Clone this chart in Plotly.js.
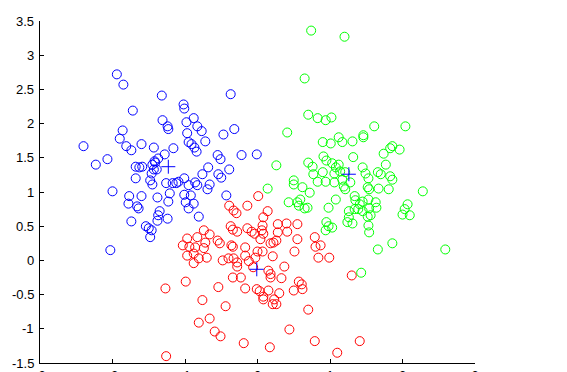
<!DOCTYPE html>
<html>
<head>
<meta charset="utf-8">
<script src="https://cdn.plot.ly/plotly-3.0.1.min.js"></script>
<style>html,body{margin:0;padding:0;background:#fff;}#chart{width:567px;height:372px;}</style>
</head>
<body>
<div id="chart"></div>
<script>
// Cluster 1 (blue)
const blueX = [-1.94,-1.85,-1.32,-0.37,-1.72,-1.02,-1.01,-1.31,-1.24,-1.23,-0.98,-0.88,-0.83,-0.77,-0.97,-0.72,-0.47,-0.32,-0.22,-0.01,
  -1.86,-1.90,-1.81,-1.74,-1.60,-1.43,-1.28,-1.16,-1.37,-1.42,-2.40,-2.23,-2.07,-0.95,-0.91,-0.87,-0.84,-0.55,-0.51,
  -1.68,-1.63,-1.59,-1.45,-1.43,-1.39,-1.41,-0.68,-0.39,-0.54,-0.50,-0.76,-1.68,-1.48,-1.45,-1.26,-1.17,-1.12,-1.09,-1.01,
  -0.95,-0.86,-0.83,-0.66,-0.69,-2.00,-1.77,-1.60,-1.78,-1.66,-1.64,-1.38,-1.21,-1.23,-1.01,-0.92,-0.99,-0.88,-0.95,-0.43,
  -1.35,-1.37,-1.38,-1.24,-0.81,-1.74,-1.54,-1.50,-1.46,-1.48,-2.03,-1.46];
const blueY = [2.72,2.57,2.41,2.43,2.19,2.28,2.22,2.05,1.96,1.92,2.02,2.08,1.96,1.89,1.86,1.74,1.84,1.92,1.54,1.55,
  1.90,1.78,1.67,1.61,1.70,1.65,1.55,1.64,1.49,1.45,1.67,1.40,1.48,1.73,1.70,1.65,1.59,1.54,1.48,
  1.37,1.36,1.37,1.40,1.33,1.33,1.43,1.36,1.33,1.26,1.21,1.26,1.20,1.17,1.11,1.13,1.13,1.13,1.15,1.20,
  1.10,1.14,1.10,1.11,1.04,1.01,0.94,0.94,0.83,0.79,0.76,0.92,0.98,0.86,0.96,0.95,0.85,0.83,0.76,0.95,
  0.72,0.66,0.58,0.61,0.64,0.57,0.50,0.47,0.44,0.34,0.15,1.27];

// Cluster 2 (red)
const redX = [0.01,-0.39,-0.14,-0.29,-0.33,0.14,0.08,-0.37,-0.34,-0.28,-0.14,-0.08,-0.04,0.06,0.07,0.04,0.28,0.40,0.55,0.28,
  0.41,0.26,0.18,0.22,0.55,0.51,0.79,0.80,0.87,0.84,0.99,-0.74,-0.66,-0.55,-0.52,-0.36,-0.97,-0.83,-0.72,-1.03,
  -0.94,-0.86,-0.74,-0.88,-0.97,-0.81,-0.70,-0.88,-0.48,-0.40,-0.33,-0.28,-0.28,-0.17,-0.03,-0.12,-0.06,-0.17,0.00,0.21,
  0.15,0.18,0.18,0.33,0.37,-0.34,-0.23,-0.99,-0.54,-0.17,-0.01,0.03,0.15,0.57,0.61,0.50,0.62,0.30,0.08,0.23,
  0.26,0.21,-0.76,-0.44,0.70,-0.81,-0.66,-0.59,-0.51,-0.19,0.17,0.44,0.79,1.10,1.41,1.30,-1.27,-1.26,0.08,-0.34,
  0.08,0.07];
const redY = [0.94,0.80,0.80,0.69,0.73,0.72,0.63,0.50,0.45,0.42,0.47,0.42,0.39,0.44,0.51,0.31,0.53,0.54,0.53,0.41,
  0.42,0.29,0.25,0.26,0.31,0.13,0.34,0.20,0.22,0.04,0.04,0.44,0.38,0.29,0.25,0.22,0.32,0.34,0.26,0.22,
  0.20,0.19,0.18,0.10,0.07,0.03,0.04,-0.04,0.00,0.03,0.03,-0.03,-0.09,0.07,0.04,-0.01,-0.10,0.19,0.13,0.06,
  -0.15,-0.20,-0.25,-0.26,-0.09,-0.25,-0.25,-0.31,-0.39,-0.41,-0.42,-0.45,-0.44,-0.31,-0.35,-0.44,-0.42,-0.48,-0.57,-0.57,
  -0.64,-0.64,-0.58,-0.67,-0.72,-0.91,-0.85,-1.04,-1.11,-1.21,-1.27,-1.01,-1.18,-1.35,-1.18,-0.22,-0.41,-1.40,-0.53,0.20,
  0.39,0.13];

// Cluster 3 (green)
const greenX = [0.74,1.20,0.65,0.70,0.83,0.94,1.02,0.41,1.61,2.04,0.90,1.01,1.12,1.17,1.31,1.46,1.46,0.91,0.95,1.32,
  1.74,1.83,1.86,1.96,0.70,1.03,1.12,1.77,0.26,0.14,0.50,0.50,0.76,0.77,0.90,1.08,1.21,0.83,0.94,1.06,
  1.17,1.28,1.45,1.49,1.53,1.66,1.70,1.83,1.86,0.62,0.72,1.19,1.21,1.52,1.54,1.67,1.81,2.28,0.43,0.55,
  0.59,0.57,0.69,1.08,0.98,1.34,1.35,1.45,1.53,1.41,1.39,1.54,1.63,1.64,1.56,1.26,1.34,1.45,1.26,1.24,
  1.31,1.52,1.53,1.54,0.95,0.98,0.94,1.03,2.03,2.00,2.07,2.10,1.86,1.66,2.59,1.43,0.65,1.14,1.06];
const greenY = [3.36,3.27,2.66,2.13,2.08,2.05,2.09,1.87,1.96,1.96,1.73,1.71,1.80,1.73,1.74,1.80,1.83,1.52,1.46,1.51,
  1.56,1.64,1.67,1.62,1.43,1.42,1.40,1.40,1.39,1.05,1.17,1.11,1.37,1.26,1.29,1.36,1.29,1.15,1.15,1.14,
  1.18,1.14,1.36,1.27,1.20,1.29,1.26,1.23,1.18,1.07,0.99,1.08,1.04,1.07,1.04,1.05,1.04,1.01,0.85,0.85,
  0.89,0.80,0.77,0.89,0.77,0.94,0.88,0.86,0.89,0.82,0.75,0.76,0.85,0.77,0.66,0.72,0.75,0.72,0.63,0.56,
  0.54,0.64,0.51,0.41,0.56,0.50,0.44,0.48,0.75,0.67,0.82,0.66,0.25,0.16,0.16,-0.18,0.76,1.30,1.27];

// Cluster centres
const centerX = [-1.23,-0.01,1.26];
const centerY = [1.37,-0.13,1.26];

const xTicks = [-3,-2,-1,0,1,2,3];
const yTicks = [-1.5,-1,-0.5,0,0.5,1,1.5,2,2.5,3,3.5];

const FONT = {family: 'Liberation Sans, Arial, sans-serif', size: 13, color: '#000'};

function cluster(x, y, color) {
  return {x: x, y: y, type: 'scatter', mode: 'markers', hoverinfo: 'skip',
    marker: {symbol: 'circle-open', size: 9, color: color, line: {width: 1, color: color}}};
}

const data = [
  cluster(blueX, blueY, '#0000ff'),
  cluster(redX, redY, '#ff0000'),
  cluster(greenX, greenY, '#00ff00'),
  {x: centerX, y: centerY, type: 'scatter', mode: 'markers', hoverinfo: 'skip',
   marker: {symbol: 'cross-thin-open', size: 10, color: '#0000ff', line: {width: 1, color: '#0000ff'}}}
];

const axisCommon = {
  showgrid: false, zeroline: false, showline: true, linecolor: '#000', linewidth: 1,
  ticks: 'inside', ticklen: 4, tickcolor: '#000', tickwidth: 1, mirror: false,
  tickfont: FONT, automargin: false
};

// y tick labels placed next to the axis (MATLAB style, close to the axis line)
const yLabels = yTicks.map(v => ({
  xref: 'paper', x: 0, yref: 'y', y: v, text: String(v), showarrow: false,
  xanchor: 'right', yanchor: 'middle', xshift: -4, font: FONT
}));

const layout = {
  width: 567, height: 372,
  margin: {l: 40, r: 92, t: 21, b: 9},
  paper_bgcolor: '#fff', plot_bgcolor: '#fff',
  showlegend: false, hovermode: false,
  xaxis: Object.assign({}, axisCommon, {range: [-3, 3], tickvals: xTicks, ticktext: xTicks.map(String)}),
  yaxis: Object.assign({}, axisCommon, {range: [-1.5, 3.5], tickvals: yTicks, showticklabels: false}),
  annotations: yLabels
};

Plotly.newPlot('chart', data, layout, {staticPlot: true, displayModeBar: false});
</script>
</body>
</html>
